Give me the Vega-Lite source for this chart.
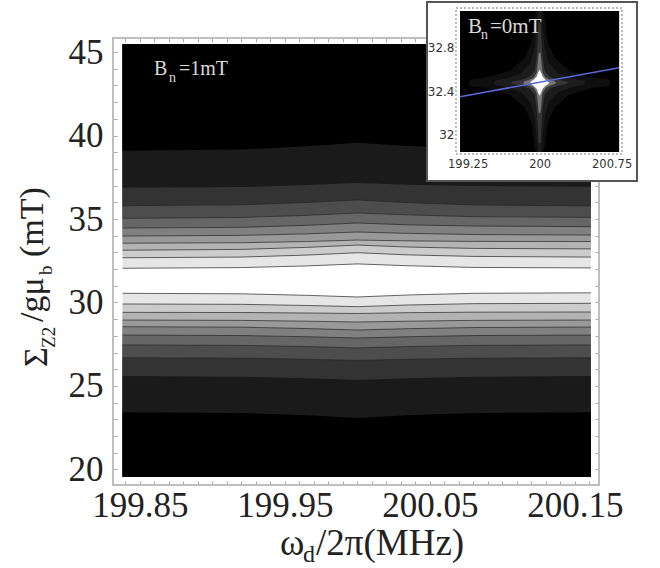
{"$schema":"https://vega.github.io/schema/vega-lite/v6.json","width":660,"height":568,"padding":0,"autosize":{"type":"none"},"background":"white","config":{"view":{"stroke":null}},
"datasets":{"bands":[
{"x":199.838,"k":"u10","v":32.05},{"x":199.92,"k":"u10","v":32.09},{"x":199.965,"k":"u10","v":32.19},{"x":200,"k":"u10","v":32.31},{"x":200.035,"k":"u10","v":32.20},{"x":200.08,"k":"u10","v":32.10},{"x":200.161,"k":"u10","v":32.07},
{"x":199.838,"k":"u09","v":32.68},{"x":199.92,"k":"u09","v":32.72},{"x":199.965,"k":"u09","v":32.84},{"x":200,"k":"u09","v":32.98},{"x":200.035,"k":"u09","v":32.85},{"x":200.08,"k":"u09","v":32.76},{"x":200.161,"k":"u09","v":32.72},
{"x":199.838,"k":"u08","v":33.13},{"x":199.92,"k":"u08","v":33.18},{"x":199.965,"k":"u08","v":33.30},{"x":200,"k":"u08","v":33.44},{"x":200.035,"k":"u08","v":33.32},{"x":200.08,"k":"u08","v":33.24},{"x":200.161,"k":"u08","v":33.21},
{"x":199.838,"k":"u07","v":33.55},{"x":199.92,"k":"u07","v":33.58},{"x":199.965,"k":"u07","v":33.65},{"x":200,"k":"u07","v":33.74},{"x":200.035,"k":"u07","v":33.69},{"x":200.08,"k":"u07","v":33.66},{"x":200.161,"k":"u07","v":33.65},
{"x":199.838,"k":"u06","v":33.98},{"x":199.92,"k":"u06","v":34.02},{"x":199.965,"k":"u06","v":34.11},{"x":200,"k":"u06","v":34.22},{"x":200.035,"k":"u06","v":34.14},{"x":200.08,"k":"u06","v":34.07},{"x":200.161,"k":"u06","v":34.04},
{"x":199.838,"k":"u05","v":34.46},{"x":199.92,"k":"u05","v":34.50},{"x":199.965,"k":"u05","v":34.62},{"x":200,"k":"u05","v":34.76},{"x":200.035,"k":"u05","v":34.65},{"x":200.08,"k":"u05","v":34.58},{"x":200.161,"k":"u05","v":34.54},
{"x":199.838,"k":"u04","v":35.04},{"x":199.92,"k":"u04","v":35.09},{"x":199.965,"k":"u04","v":35.22},{"x":200,"k":"u04","v":35.36},{"x":200.035,"k":"u04","v":35.25},{"x":200.08,"k":"u04","v":35.14},{"x":200.161,"k":"u04","v":35.10},
{"x":199.838,"k":"u03","v":35.80},{"x":199.92,"k":"u03","v":35.85},{"x":199.965,"k":"u03","v":35.99},{"x":200,"k":"u03","v":36.14},{"x":200.035,"k":"u03","v":35.98},{"x":200.08,"k":"u03","v":35.84},{"x":200.161,"k":"u03","v":35.78},
{"x":199.838,"k":"u02","v":36.87},{"x":199.92,"k":"u02","v":36.91},{"x":199.965,"k":"u02","v":37.03},{"x":200,"k":"u02","v":37.16},{"x":200.035,"k":"u02","v":37.05},{"x":200.08,"k":"u02","v":36.97},{"x":200.161,"k":"u02","v":36.93},
{"x":199.838,"k":"u01","v":39.09},{"x":199.92,"k":"u01","v":39.16},{"x":199.965,"k":"u01","v":39.35},{"x":200,"k":"u01","v":39.57},{"x":200.035,"k":"u01","v":39.37},{"x":200.08,"k":"u01","v":39.20},{"x":200.161,"k":"u01","v":39.13},
{"x":199.838,"k":"l10","v":30.55},{"x":199.92,"k":"l10","v":30.52},{"x":199.965,"k":"l10","v":30.43},{"x":200,"k":"l10","v":30.33},{"x":200.035,"k":"l10","v":30.45},{"x":200.08,"k":"l10","v":30.55},{"x":200.161,"k":"l10","v":30.58},
{"x":199.838,"k":"l09","v":29.91},{"x":199.92,"k":"l09","v":29.89},{"x":199.965,"k":"l09","v":29.82},{"x":200,"k":"l09","v":29.75},{"x":200.035,"k":"l09","v":29.85},{"x":200.08,"k":"l09","v":29.93},{"x":200.161,"k":"l09","v":29.95},
{"x":199.838,"k":"l08","v":29.41},{"x":199.92,"k":"l08","v":29.40},{"x":199.965,"k":"l08","v":29.37},{"x":200,"k":"l08","v":29.34},{"x":200.035,"k":"l08","v":29.39},{"x":200.08,"k":"l08","v":29.42},{"x":200.161,"k":"l08","v":29.43},
{"x":199.838,"k":"l07","v":28.95},{"x":199.92,"k":"l07","v":28.93},{"x":199.965,"k":"l07","v":28.88},{"x":200,"k":"l07","v":28.83},{"x":200.035,"k":"l07","v":28.88},{"x":200.08,"k":"l07","v":28.93},{"x":200.161,"k":"l07","v":28.95},
{"x":199.838,"k":"l06","v":28.55},{"x":199.92,"k":"l06","v":28.52},{"x":199.965,"k":"l06","v":28.44},{"x":200,"k":"l06","v":28.35},{"x":200.035,"k":"l06","v":28.43},{"x":200.08,"k":"l06","v":28.50},{"x":200.161,"k":"l06","v":28.53},
{"x":199.838,"k":"l05","v":28.05},{"x":199.92,"k":"l05","v":28.02},{"x":199.965,"k":"l05","v":27.95},{"x":200,"k":"l05","v":27.87},{"x":200.035,"k":"l05","v":27.95},{"x":200.08,"k":"l05","v":28.02},{"x":200.161,"k":"l05","v":28.05},
{"x":199.838,"k":"l04","v":27.46},{"x":199.92,"k":"l04","v":27.43},{"x":199.965,"k":"l04","v":27.36},{"x":200,"k":"l04","v":27.28},{"x":200.035,"k":"l04","v":27.36},{"x":200.08,"k":"l04","v":27.43},{"x":200.161,"k":"l04","v":27.46},
{"x":199.838,"k":"l03","v":26.69},{"x":199.92,"k":"l03","v":26.67},{"x":199.965,"k":"l03","v":26.60},{"x":200,"k":"l03","v":26.53},{"x":200.035,"k":"l03","v":26.60},{"x":200.08,"k":"l03","v":26.67},{"x":200.161,"k":"l03","v":26.69},
{"x":199.838,"k":"l02","v":25.60},{"x":199.92,"k":"l02","v":25.56},{"x":199.965,"k":"l02","v":25.47},{"x":200,"k":"l02","v":25.36},{"x":200.035,"k":"l02","v":25.47},{"x":200.08,"k":"l02","v":25.56},{"x":200.161,"k":"l02","v":25.60},
{"x":199.838,"k":"l01","v":23.43},{"x":199.92,"k":"l01","v":23.38},{"x":199.965,"k":"l01","v":23.24},{"x":200,"k":"l01","v":23.08},{"x":200.035,"k":"l01","v":23.24},{"x":200.08,"k":"l01","v":23.38},{"x":200.161,"k":"l01","v":23.43}
],
"star":[
{"x":199.27,"s":"a","lo":32.448,"hi":32.502},{"x":199.48,"s":"a","lo":32.42,"hi":32.53},{"x":199.69,"s":"a","lo":32.366,"hi":32.584},{"x":199.844,"s":"a","lo":32.248,"hi":32.702},{"x":199.917,"s":"a","lo":32.111,"hi":32.839},{"x":199.948,"s":"a","lo":31.875,"hi":33.075},{"x":199.965,"s":"a","lo":31.845,"hi":33.127},{"x":200.035,"s":"a","lo":31.845,"hi":33.127},{"x":200.052,"s":"a","lo":31.875,"hi":33.075},{"x":200.083,"s":"a","lo":32.111,"hi":32.839},{"x":200.156,"s":"a","lo":32.248,"hi":32.702},{"x":200.31,"s":"a","lo":32.366,"hi":32.584},{"x":200.52,"s":"a","lo":32.42,"hi":32.53},{"x":200.73,"s":"a","lo":32.448,"hi":32.502},
{"x":199.531,"s":"b","lo":32.457,"hi":32.493},{"x":199.688,"s":"b","lo":32.43,"hi":32.52},{"x":199.8125,"s":"b","lo":32.384,"hi":32.566},{"x":199.906,"s":"b","lo":32.293,"hi":32.657},{"x":199.948,"s":"b","lo":32.157,"hi":32.793},{"x":199.969,"s":"b","lo":31.975,"hi":32.975},{"x":199.984,"s":"b","lo":31.845,"hi":33.127},{"x":200.016,"s":"b","lo":31.845,"hi":33.127},{"x":200.031,"s":"b","lo":31.975,"hi":32.975},{"x":200.052,"s":"b","lo":32.157,"hi":32.793},{"x":200.094,"s":"b","lo":32.293,"hi":32.657},{"x":200.1875,"s":"b","lo":32.384,"hi":32.566},{"x":200.312,"s":"b","lo":32.43,"hi":32.52},{"x":200.469,"s":"b","lo":32.457,"hi":32.493},
{"x":199.708,"s":"c","lo":32.466,"hi":32.484},{"x":199.8125,"s":"c","lo":32.448,"hi":32.502},{"x":199.896,"s":"c","lo":32.42,"hi":32.53},{"x":199.948,"s":"c","lo":32.366,"hi":32.584},{"x":199.969,"s":"c","lo":32.248,"hi":32.702},{"x":199.979,"s":"c","lo":32.111,"hi":32.839},{"x":199.99,"s":"c","lo":31.93,"hi":33.02},{"x":200.01,"s":"c","lo":31.93,"hi":33.02},{"x":200.021,"s":"c","lo":32.111,"hi":32.839},{"x":200.031,"s":"c","lo":32.248,"hi":32.702},{"x":200.052,"s":"c","lo":32.366,"hi":32.584},{"x":200.104,"s":"c","lo":32.42,"hi":32.53},{"x":200.1875,"s":"c","lo":32.448,"hi":32.502},{"x":200.292,"s":"c","lo":32.466,"hi":32.484},
{"x":199.833,"s":"d","lo":32.466,"hi":32.484},{"x":199.896,"s":"d","lo":32.448,"hi":32.502},{"x":199.9375,"s":"d","lo":32.43,"hi":32.52},{"x":199.969,"s":"d","lo":32.384,"hi":32.566},{"x":199.979,"s":"d","lo":32.311,"hi":32.639},{"x":199.99,"s":"d","lo":32.202,"hi":32.748},{"x":200.01,"s":"d","lo":32.202,"hi":32.748},{"x":200.021,"s":"d","lo":32.311,"hi":32.639},{"x":200.031,"s":"d","lo":32.384,"hi":32.566},{"x":200.0625,"s":"d","lo":32.43,"hi":32.52},{"x":200.104,"s":"d","lo":32.448,"hi":32.502},{"x":200.167,"s":"d","lo":32.466,"hi":32.484},
{"x":199.906,"s":"e","lo":32.466,"hi":32.484},{"x":199.9375,"s":"e","lo":32.448,"hi":32.502},{"x":199.969,"s":"e","lo":32.42,"hi":32.53},{"x":199.984,"s":"e","lo":32.384,"hi":32.566},{"x":200,"s":"e","lo":32.357,"hi":32.593},{"x":200.016,"s":"e","lo":32.384,"hi":32.566},{"x":200.031,"s":"e","lo":32.42,"hi":32.53},{"x":200.0625,"s":"e","lo":32.448,"hi":32.502},{"x":200.094,"s":"e","lo":32.466,"hi":32.484}
]},
"layer":[
{"layer":[
{"data":{"values":[{"x0":199.8314,"x1":200.1666,"y0":19.07,"y1":45.84}]},"mark":{"type":"rect","fill":"transparent","stroke":"#bdbdbd","strokeWidth":1.5},
"encoding":{"x":{"field":"x0","type":"quantitative","scale":{"domain":[199.8314,200.1666],"range":[113,599]},"axis":{"orient":"bottom","offset":-83,"values":[199.85,199.95,200.05,200.15],"format":".2f","title":null,"grid":false,"domain":false,"ticks":false,"labelFont":"Liberation Serif","labelFontSize":35,"labelColor":"#222","labelPadding":3,"labelOverlap":false,"labelFlush":false}},"x2":{"field":"x1"},
"y":{"field":"y0","type":"quantitative","scale":{"domain":[19.07,45.84],"range":[485,38]},"axis":{"orient":"left","offset":-113,"values":[20,25,30,35,40,45],"format":"d","title":null,"grid":false,"domain":false,"ticks":false,"labelFont":"Liberation Serif","labelFontSize":35,"labelColor":"#222","labelPadding":10,"labelOverlap":false,"labelFlush":false}},"y2":{"field":"y1"}}},
{"data":{"values":[{"x0":199.8314,"x1":200.1666,"y0":19.07,"y1":45.84}]},"mark":{"type":"rect","fill":"transparent","stroke":"#bdbdbd","strokeWidth":1.5},
"encoding":{"x":{"field":"x0","type":"quantitative","scale":{"domain":[199.8314,200.1666],"range":[113,599]},"axis":{"orient":"bottom","offset":-83,"values":[199.84,199.85,199.86,199.87,199.88,199.89,199.90,199.91,199.92,199.93,199.94,199.95,199.96,199.97,199.98,199.99,200,200.01,200.02,200.03,200.04,200.05,200.06,200.07,200.08,200.09,200.10,200.11,200.12,200.13,200.14,200.15,200.16],"title":null,"grid":false,"domain":false,"labels":false,"tickSize":-4,"tickColor":"#aaa"}},"x2":{"field":"x1"},
"y":{"field":"y0","type":"quantitative","scale":{"domain":[19.07,45.84],"range":[485,38]},"axis":{"orient":"left","offset":-113,"values":[20,21,22,23,24,25,26,27,28,29,30,31,32,33,34,35,36,37,38,39,40,41,42,43,44,45],"title":null,"grid":false,"domain":false,"labels":false,"tickSize":-4,"tickColor":"#aaa"}},"y2":{"field":"y1"}}},
{"data":{"values":[{"x0":199.8314,"x1":200.1666,"y0":19.07,"y1":45.84}]},"mark":{"type":"rect","fill":"transparent","stroke":"#bdbdbd","strokeWidth":1.5},
"encoding":{"x":{"field":"x0","type":"quantitative","scale":{"domain":[199.8314,200.1666],"range":[113,599]},"axis":{"orient":"top","offset":-38,"values":[199.84,199.85,199.86,199.87,199.88,199.89,199.90,199.91,199.92,199.93,199.94,199.95,199.96,199.97,199.98,199.99,200,200.01,200.02,200.03,200.04,200.05,200.06,200.07,200.08,200.09,200.10,200.11,200.12,200.13,200.14,200.15,200.16],"title":null,"grid":false,"domain":false,"labels":false,"tickSize":-4,"tickColor":"#aaa"}},"x2":{"field":"x1"},
"y":{"field":"y0","type":"quantitative","scale":{"domain":[19.07,45.84],"range":[485,38]},"axis":{"orient":"right","offset":-61,"values":[20,21,22,23,24,25,26,27,28,29,30,31,32,33,34,35,36,37,38,39,40,41,42,43,44,45],"title":null,"grid":false,"domain":false,"labels":false,"tickSize":-4,"tickColor":"#aaa"}},"y2":{"field":"y1"}}},
{"data":{"name":"bands"},"transform":[{"filter":"indexof(datum.k,'u')==0"}],"mark":{"type":"area"},
"encoding":{"x":{"field":"x","type":"quantitative","scale":{"domain":[199.8314,200.1666],"range":[113,599]},"axis":null},"y":{"field":"v","type":"quantitative","stack":null,"scale":{"domain":[19.07,45.84],"range":[485,38]},"axis":null},"y2":{"datum":45.48},
"color":{"field":"k","type":"nominal","legend":null,"scale":{"domain":["u10","u09","u08","u07","u06","u05","u04","u03","u02","u01","l10","l09","l08","l07","l06","l05","l04","l03","l02","l01"],"range":["#e6e6e6","#cccccc","#b3b3b3","#999999","#808080","#666666","#4d4d4d","#333333","#1a1a1a","#000000","#e6e6e6","#cccccc","#b3b3b3","#999999","#808080","#666666","#4d4d4d","#333333","#1a1a1a","#000000"]}}}},
{"data":{"name":"bands"},"transform":[{"filter":"indexof(datum.k,'l')==0"}],"mark":{"type":"area"},
"encoding":{"x":{"field":"x","type":"quantitative","scale":{"domain":[199.8314,200.1666],"range":[113,599]},"axis":null},"y":{"field":"v","type":"quantitative","stack":null,"scale":{"domain":[19.07,45.84],"range":[485,38]},"axis":null},"y2":{"datum":19.55},
"color":{"field":"k","type":"nominal","legend":null}}},
{"data":{"name":"bands"},"transform":[{"filter":"datum.k!='u01'&&datum.k!='l01'&&datum.k!='u02'&&datum.k!='l02'"}],"mark":{"type":"line","color":"#262626","strokeWidth":1,"opacity":0.7},
"encoding":{"x":{"field":"x","type":"quantitative","scale":{"domain":[199.8314,200.1666],"range":[113,599]},"axis":null},"y":{"field":"v","type":"quantitative","stack":null,"scale":{"domain":[19.07,45.84],"range":[485,38]},"axis":null},"detail":{"field":"k"}}},
{"data":{"values":[{"x":199.9466,"y":14.88,"t":"ω"},{"x":199.9714,"y":14.88,"t":"/2π(MHz)"}]},"mark":{"type":"text","font":"Liberation Serif","fontSize":37,"align":"left","baseline":"alphabetic","color":"#222"},
"encoding":{"x":{"field":"x","type":"quantitative","scale":{"domain":[199.8314,200.1666],"range":[113,599]},"axis":null},"y":{"field":"y","type":"quantitative","scale":{"domain":[19.07,45.84],"range":[485,38]},"axis":null},"text":{"field":"t"}}},
{"data":{"values":[{"x":199.9624,"y":14.46,"t":"d"}]},"mark":{"type":"text","font":"Liberation Serif","fontSize":24,"align":"left","baseline":"alphabetic","color":"#222"},
"encoding":{"x":{"field":"x","type":"quantitative","scale":{"domain":[199.8314,200.1666],"range":[113,599]},"axis":null},"y":{"field":"y","type":"quantitative","scale":{"domain":[19.07,45.84],"range":[485,38]},"axis":null},"text":{"field":"t"}}},
{"data":{"values":[{"x":199.7859,"y":26.14,"t":"Σ"},{"x":199.7831,"y":28.83,"t":"/gμ"},{"x":199.7831,"y":32.72,"t":"(mT)"}]},"mark":{"type":"text","font":"Liberation Serif","fontSize":34,"angle":270,"align":"left","baseline":"alphabetic","color":"#222"},
"encoding":{"x":{"field":"x","type":"quantitative","scale":{"domain":[199.8314,200.1666],"range":[113,599]},"axis":null},"y":{"field":"y","type":"quantitative","scale":{"domain":[19.07,45.84],"range":[485,38]},"axis":null},"text":{"field":"t"}}},
{"data":{"values":[{"x":199.7914,"y":27.28,"t":"Z2"},{"x":199.789,"y":31.65,"t":"b"}]},"mark":{"type":"text","font":"Liberation Serif","fontSize":19,"angle":270,"align":"left","baseline":"alphabetic","color":"#222"},
"encoding":{"x":{"field":"x","type":"quantitative","scale":{"domain":[199.8314,200.1666],"range":[113,599]},"axis":null},"y":{"field":"y","type":"quantitative","scale":{"domain":[19.07,45.84],"range":[485,38]},"axis":null},"text":{"field":"t"}}},
{"data":{"values":[{"x":199.8597,"y":43.62,"t":"B"},{"x":199.8769,"y":43.62,"t":"=1mT"}]},"mark":{"type":"text","font":"Liberation Serif","fontSize":20,"align":"left","baseline":"alphabetic","color":"#d8d8d8"},
"encoding":{"x":{"field":"x","type":"quantitative","scale":{"domain":[199.8314,200.1666],"range":[113,599]},"axis":null},"y":{"field":"y","type":"quantitative","scale":{"domain":[19.07,45.84],"range":[485,38]},"axis":null},"text":{"field":"t"}}},
{"data":{"values":[{"x":199.87,"y":43.2,"t":"n"}]},"mark":{"type":"text","font":"Liberation Serif","fontSize":14,"align":"left","baseline":"alphabetic","color":"#d8d8d8"},
"encoding":{"x":{"field":"x","type":"quantitative","scale":{"domain":[199.8314,200.1666],"range":[113,599]},"axis":null},"y":{"field":"y","type":"quantitative","scale":{"domain":[19.07,45.84],"range":[485,38]},"axis":null},"text":{"field":"t"}}}
],"resolve":{"axis":{"x":"independent","y":"independent"}}},
{"layer":[
{"data":{"values":[{"x0":198.827,"x1":201.014,"y0":31.582,"y1":33.209}]},"mark":{"type":"rect","fill":"white","stroke":"#555","strokeWidth":2},
"encoding":{"x":{"field":"x0","type":"quantitative","scale":{"domain":[199.129,200.858],"range":[456,622]},"axis":{"orient":"bottom","offset":-414,"zindex":1,"values":[199.25,200,200.75],"format":".2~f","title":null,"grid":false,"domain":false,"ticks":false,"labelFont":"DejaVu Sans","labelFontSize":11.5,"labelColor":"#333","labelPadding":4,"labelOverlap":false,"labelFlush":false}},"x2":{"field":"x1"},
"y":{"field":"y0","type":"quantitative","scale":{"domain":[31.827,33.155],"range":[154,8]},"axis":{"orient":"left","offset":-456,"zindex":1,"values":[32,32.4,32.8],"format":".1~f","title":null,"grid":false,"domain":false,"ticks":false,"labelFont":"DejaVu Sans","labelFontSize":12,"labelColor":"#333","labelPadding":2,"labelOverlap":false,"labelFlush":false}},"y2":{"field":"y1"}}},
{"data":{"values":[{"x0":199.129,"x1":200.858,"y0":31.827,"y1":33.155}]},"mark":{"type":"rect","fill":"white","stroke":"#bbbbbb","strokeWidth":2,"strokeDash":[2,2]},
"encoding":{"x":{"field":"x0","type":"quantitative","scale":{"domain":[199.129,200.858],"range":[456,622]},"axis":null},"x2":{"field":"x1"},"y":{"field":"y0","type":"quantitative","scale":{"domain":[31.827,33.155],"range":[154,8]},"axis":null},"y2":{"field":"y1"}}},
{"data":{"values":[{"x0":199.171,"x1":200.828,"y0":31.845,"y1":33.127}]},"mark":{"type":"rect","fill":"black"},
"encoding":{"x":{"field":"x0","type":"quantitative","scale":{"domain":[199.129,200.858],"range":[456,622]},"axis":null},"x2":{"field":"x1"},"y":{"field":"y0","type":"quantitative","scale":{"domain":[31.827,33.155],"range":[154,8]},"axis":null},"y2":{"field":"y1"}}},
{"data":{"name":"star"},"mark":{"type":"area"},
"encoding":{"x":{"field":"x","type":"quantitative","scale":{"domain":[199.129,200.858],"range":[456,622]},"axis":null},"y":{"field":"lo","type":"quantitative","stack":null,"scale":{"domain":[31.827,33.155],"range":[154,8]},"axis":null},"y2":{"field":"hi"},
"color":{"field":"s","type":"nominal","legend":null,"scale":{"domain":["a","b","c","d","e"],"range":["#0f0f0f","#1c1c1c","#363636","#777777","#ffffff"]}}}},
{"data":{"values":[{"x":199.171,"y":32.348},{"x":200.828,"y":32.612}]},"mark":{"type":"line","color":"#5a68d8","strokeWidth":1.6},
"encoding":{"x":{"field":"x","type":"quantitative","scale":{"domain":[199.129,200.858],"range":[456,622]},"axis":null},"y":{"field":"y","type":"quantitative","scale":{"domain":[31.827,33.155],"range":[154,8]},"axis":null}}},
{"data":{"values":[{"x":199.254,"y":32.927,"t":"B"},{"x":199.483,"y":32.927,"t":"=0mT"}]},"mark":{"type":"text","font":"Liberation Serif","fontSize":21,"align":"left","baseline":"alphabetic","color":"#d8d8d8"},
"encoding":{"x":{"field":"x","type":"quantitative","scale":{"domain":[199.129,200.858],"range":[456,622]},"axis":null},"y":{"field":"y","type":"quantitative","scale":{"domain":[31.827,33.155],"range":[154,8]},"axis":null},"text":{"field":"t"}}},
{"data":{"values":[{"x":199.39,"y":32.873,"t":"n"}]},"mark":{"type":"text","font":"Liberation Serif","fontSize":14,"align":"left","baseline":"alphabetic","color":"#d8d8d8"},
"encoding":{"x":{"field":"x","type":"quantitative","scale":{"domain":[199.129,200.858],"range":[456,622]},"axis":null},"y":{"field":"y","type":"quantitative","scale":{"domain":[31.827,33.155],"range":[154,8]},"axis":null},"text":{"field":"t"}}}
],"resolve":{"axis":{"x":"independent","y":"independent"}}}
],
"resolve":{"scale":{"x":"independent","y":"independent","color":"independent"},"axis":{"x":"independent","y":"independent"}}}
